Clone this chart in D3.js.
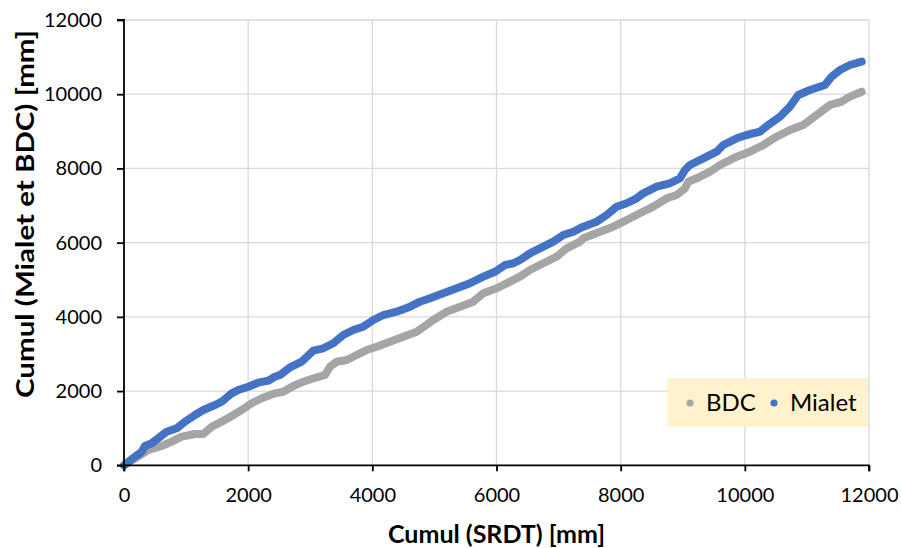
<!DOCTYPE html>
<html>
<head>
<meta charset="utf-8">
<script src="https://cdn.jsdelivr.net/npm/d3@7"></script>
<style>
  html, body { margin: 0; padding: 0; background: #fff; }
  svg { display: block; font-family: Lato, "Open Sans", sans-serif; }
</style>
</head>
<body>
<svg id="chart" width="901" height="548"></svg>
<script>
// ---- data ----
const seriesNames = ["BDC", "Mialet"];
const xTicks = [0, 2000, 4000, 6000, 8000, 10000, 12000];
const yTicks = [0, 2000, 4000, 6000, 8000, 10000, 12000];

const bdcX = [0,177,391,607,768,929,1144,1277,1413,1574,1735,1896,2057,2218,2432,2566,2727,2888,3104,3238,3318,3426,3587,3748,3909,4070,4284,4499,4714,4982,5198,5412,5626,5787,6003,6217,6378,6539,6754,6969,7130,7345,7398,7667,7881,8097,8311,8525,8741,8902,9036,9089,9224,9439,9600,9869,10083,10298,10513,10726,10941,11156,11371,11560,11693,11882];
const bdcY = [0,189,412,520,636,771,843,843,1040,1175,1329,1490,1671,1806,1940,1983,2137,2253,2372,2434,2657,2792,2838,2972,3107,3196,3331,3466,3600,3916,4139,4274,4409,4635,4770,4948,5083,5263,5444,5621,5848,6026,6117,6295,6430,6611,6791,6969,7195,7284,7465,7643,7734,7912,8093,8317,8451,8632,8855,9036,9171,9441,9710,9799,9934,10068];

const mialetX = [0,177,285,338,446,552,688,849,983,1144,1277,1466,1574,1735,1841,2002,2163,2324,2432,2513,2674,2862,3049,3210,3371,3532,3693,3854,4016,4177,4392,4607,4768,4929,5143,5359,5573,5787,5976,6137,6271,6378,6539,6754,6915,7076,7237,7398,7614,7775,7936,8097,8258,8364,8580,8794,8955,9036,9116,9331,9547,9653,9869,10030,10244,10378,10565,10726,10861,11049,11290,11398,11532,11693,11882];
const mialetY = [0,232,367,520,593,728,906,997,1175,1356,1490,1625,1714,1940,2029,2118,2226,2280,2388,2434,2641,2792,3088,3153,3288,3511,3646,3735,3916,4050,4139,4274,4409,4500,4635,4770,4905,5083,5217,5398,5444,5533,5713,5891,6026,6206,6295,6430,6565,6745,6969,7061,7195,7330,7508,7600,7734,7958,8093,8273,8451,8632,8812,8901,8990,9171,9394,9664,9979,10114,10248,10472,10652,10787,10876];

const xTitle = "Cumul (SRDT) [mm]";
const yTitle = "Cumul (Mialet et BDC) [mm]";
const colors = ["#A5A5A5", "#4472C4"];

(function draw() {
  const svg = d3.select("#chart");
  const pL = 124, pR = 869, pT = 20, pB = 465.3;
  const x = d3.scaleLinear().domain([0, 12000]).range([pL, pR]);
  const y = d3.scaleLinear().domain([0, 12000]).range([pB, pT]);

  // gridlines
  const grid = svg.append("g").attr("stroke", "#D9D9D9").attr("stroke-width", 1.3);
  grid.selectAll("line.v").data(xTicks.filter(d => d > 0)).join("line").attr("class", "v")
    .attr("x1", d => x(d)).attr("x2", d => x(d)).attr("y1", pT).attr("y2", pB);
  grid.selectAll("line.h").data(yTicks.filter(d => d > 0)).join("line").attr("class", "h")
    .attr("x1", pL).attr("x2", pR).attr("y1", d => y(d)).attr("y2", d => y(d));

  // series as thick lines (dense markers in the original)
  const datasets = [
    bdcX.map((d, i) => [d, bdcY[i]]),
    mialetX.map((d, i) => [d, mialetY[i]])
  ];
  const line = d3.line().x(d => x(d[0])).y(d => y(d[1]));
  datasets.forEach((ds, i) => {
    svg.append("path").datum(ds)
      .attr("d", line)
      .attr("fill", "none")
      .attr("stroke", colors[i])
      .attr("stroke-width", 8)
      .attr("stroke-linejoin", "round")
      .attr("stroke-linecap", "round");
  });

  // axes
  const xAxis = d3.axisBottom(x).tickValues(xTicks).tickSize(6).tickPadding(17).tickFormat(d3.format("d"));
  const yAxis = d3.axisLeft(y).tickValues(yTicks).tickSize(7).tickPadding(15).tickFormat(d3.format("d"));
  const gx = svg.append("g").attr("transform", `translate(0,${pB})`).call(xAxis);
  const gy = svg.append("g").attr("transform", `translate(${pL},0)`).call(yAxis);
  [gx, gy].forEach(g => {
    g.select(".domain").attr("stroke", "#000").attr("stroke-width", 1.8);
    g.selectAll(".tick line").attr("stroke", "#000").attr("stroke-width", 1.8);
    g.selectAll(".tick text").attr("fill", "#000").style("font-size", "20px").style("font-family", "Lato, 'Open Sans', sans-serif");
  });
  gx.select(".domain").attr("d", `M${pL},6V0H${pR}V6`);
  gy.select(".domain").attr("d", `M-7,${pB}H0V${pT}H-7`);

  // axis titles
  svg.append("text")
    .attr("x", (pL + pR) / 2).attr("y", 543)
    .attr("text-anchor", "middle")
    .attr("textLength", 217).attr("lengthAdjust", "spacingAndGlyphs")
    .style("font-size", "24px").style("font-weight", "bold")
    .text(xTitle);
  svg.append("text")
    .attr("transform", `translate(34,214) rotate(-90)`)
    .attr("text-anchor", "middle")
    .attr("textLength", 368).attr("lengthAdjust", "spacingAndGlyphs")
    .style("font-size", "24px").style("font-weight", "bold")
    .text(yTitle);

  // legend
  const lg = svg.append("g");
  lg.append("rect").attr("x", 667).attr("y", 378).attr("width", 201).attr("height", 49).attr("fill", "#FFF2CC");
  const legendItems = [
    { name: seriesNames[0], color: colors[0], cx: 690, tx: 706 },
    { name: seriesNames[1], color: colors[1], cx: 774, tx: 790 }
  ];
  legendItems.forEach(it => {
    lg.append("circle").attr("cx", it.cx).attr("cy", 403).attr("r", 3.6).attr("fill", it.color);
    lg.append("text").attr("x", it.tx).attr("y", 411).style("font-size", "24px").attr("fill", "#000").text(it.name);
  });
})();
</script>
</body>
</html>
